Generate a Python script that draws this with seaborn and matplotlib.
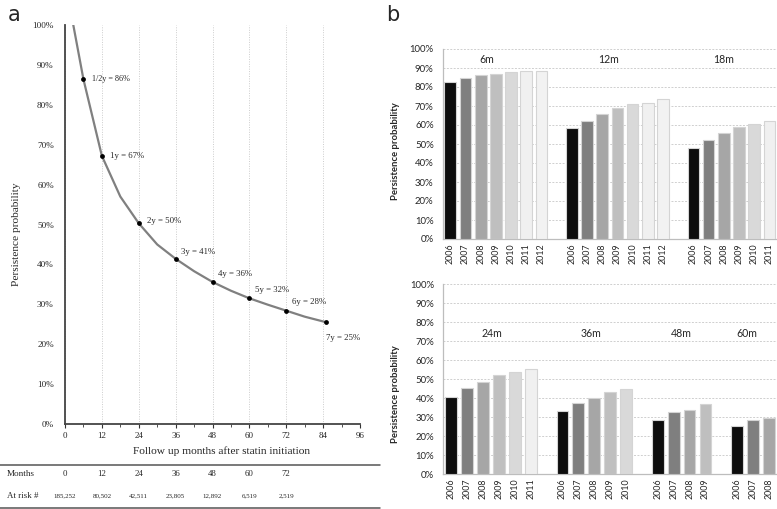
import numpy as np
import pandas as pd
import matplotlib
matplotlib.use("Agg")
import matplotlib.pyplot as plt
import matplotlib.transforms as mtransforms
from matplotlib.lines import Line2D
import seaborn as sns

# ---------------- data: panel a ----------------
curve_months = [2.7, 6, 12, 18, 24, 30, 36, 42, 48, 54, 60, 66, 72, 78, 85]
curve_values = [100, 86.4, 67.2, 57.0, 50.3, 45.0, 41.4, 38.3, 35.6, 33.4, 31.5, 29.9, 28.4, 26.9, 25.5]
point_months = [6, 12, 24, 36, 48, 60, 72, 85]
point_values = [86.4, 67.2, 50.3, 41.4, 35.6, 31.5, 28.4, 25.5]
point_labels = ["1/2y = 86%", "1y = 67%", "2y = 50%", "3y = 41%", "4y = 36%",
                "5y = 32%", "6y = 28%", "7y = 25%"]
risk_months = [0, 12, 24, 36, 48, 60, 72]
risk_counts = ["185,252", "80,502", "42,511", "23,805", "12,892", "6,519", "2,519"]

# ---------------- data: panel b ----------------
years_all = ["2006", "2007", "2008", "2009", "2010", "2011", "2012"]
year_colors = ["#0d0d0d", "#7f7f7f", "#a6a6a6", "#bfbfbf", "#d9d9d9", "#f0f0f0", "#f2f2f2"]

top_groups = ["6m", "12m", "18m"]
top_values = [
    [82.5, 84.6, 86.1, 87.0, 87.9, 88.2, 88.2],
    [58.6, 62.1, 66.0, 69.1, 70.9, 71.6, 73.5],
    [47.9, 51.9, 55.6, 59.1, 60.5, 62.1],
]
bottom_groups = ["24m", "36m", "48m", "60m"]
bottom_values = [
    [40.8, 45.4, 48.7, 52.1, 53.8, 55.6],
    [33.3, 37.5, 40.0, 43.2, 44.9],
    [28.6, 32.6, 33.8, 36.8],
    [25.4, 28.7, 29.6],
]

W, H = 777, 509
sns.set_theme(style="white")
plt.rcParams["font.family"] = ["Liberation Serif", "DejaVu Serif"]
fig = plt.figure(figsize=(W / 100, H / 100), dpi=100)

def fx(px):
    return px / W

def fy(py):
    return 1 - py / H

# ================= panel a =================
ax = fig.add_axes([fx(65), fy(424), fx(295), 399 / H])
curve_df = pd.DataFrame({"month": curve_months, "value": curve_values})
pts_df = pd.DataFrame({"month": point_months, "value": point_values})
sns.lineplot(data=curve_df, x="month", y="value", ax=ax, color="#808080", lw=1.6)
sns.scatterplot(data=pts_df, x="month", y="value", ax=ax, color="black", s=12,
                edgecolor="black", linewidth=0, zorder=5)
ax.set_xlim(0, 96)
ax.set_ylim(0, 100)
ax.set_xticks(range(0, 97, 12))
ax.set_xticks(range(6, 96, 12), minor=True)
ax.set_yticks(range(0, 101, 10))
ax.set_yticklabels([f"{v}%" for v in range(0, 101, 10)])
ax.tick_params(axis="x", which="major", length=3, width=0.8, color="#333333",
               labelsize=6.5, pad=3, direction="out", bottom=True)
ax.tick_params(axis="x", which="minor", length=2, width=0.6, color="#333333", bottom=True)
ax.tick_params(axis="y", length=0, labelsize=6.6, pad=8)
ax.xaxis.grid(True, which="major", ls=(0, (1, 1.5)), color="#cccccc", lw=0.7)
ax.yaxis.grid(False)
for s in ["top", "right"]:
    ax.spines[s].set_visible(False)
for s in ["left", "bottom"]:
    ax.spines[s].set_color("#444444")
    ax.spines[s].set_linewidth(1.3)
ax.set_xlabel("Follow up months after statin initiation", fontsize=8.2)
ax.xaxis.set_label_coords((221.5 - 65) / 295, -(446 - 424) / 399)
ax.set_ylabel("Persistence probability", fontsize=8.2)
ax.yaxis.set_label_coords((21 - 65) / 295, (424 - 234) / 399)

offsets = [(6, 0), (6, 0), (6, 2), (4, 5), (4, 6), (4, 6), (4, 6), (0, -11)]
for m, v, lab, off in zip(point_months, point_values, point_labels, offsets):
    ax.annotate(lab, (m, v), xytext=off, textcoords="offset points",
                fontsize=6.3 if not lab.startswith("1/2") else 5.9,
                ha="left", va="center")

# risk table
tr = mtransforms.blended_transform_factory(ax.transData, fig.transFigure)
fig.text(fx(7), fy(474), "Months", fontsize=6.6, ha="left", va="center")
fig.text(fx(7), fy(496), "At risk #", fontsize=6.4, ha="left", va="center")
for m, c in zip(risk_months, risk_counts):
    fig.text(m, fy(474), str(m), transform=tr, fontsize=6.3, ha="center", va="center")
    fig.text(m, fy(496), c, transform=tr, fontsize=5.0, ha="center", va="center")
for yy in (465, 508):
    fig.add_artist(Line2D([0, fx(380)], [fy(yy), fy(yy)], color="#555555", lw=1.1,
                          transform=fig.transFigure))

fig.text(fx(8), fy(15), "a", fontsize=15, family="DejaVu Sans", ha="left", va="center")
fig.text(fx(386), fy(15), "b", fontsize=15, family="DejaVu Sans", ha="left", va="center")

# ================= panel b =================
SANS = ["Lato", "DejaVu Sans"]

def build(groups, values):
    rows = []
    slot = 0
    for g, vals in zip(groups, values):
        for i, v in enumerate(vals):
            rows.append({"slot": slot, "value": v, "year": years_all[i], "group": g})
            slot += 1
        slot += 1
    return pd.DataFrame(rows), slot - 1

def draw_bars(axb, groups, values, width, label_slots, label_y, ylab_y):
    df, nslots = build(groups, values)
    sns.barplot(data=df, x="slot", y="value", hue="year", hue_order=years_all,
                palette=year_colors, dodge=False, native_scale=True, width=width,
                edgecolor="#d4d4d4", linewidth=0.8, legend=False, ax=axb, zorder=3)
    axb.set_xlim(-0.5, nslots - 0.5)
    axb.set_ylim(0, 100)
    axb.set_yticks(range(0, 101, 10))
    axb.set_yticklabels([f"{v}%" for v in range(0, 101, 10)], family=SANS)
    axb.set_xticks(df["slot"].tolist())
    axb.set_xticklabels(df["year"].tolist(), rotation=90, family=SANS)
    axb.tick_params(axis="y", length=0, labelsize=6.9, pad=6.5)
    axb.tick_params(axis="x", length=0, labelsize=6.4, pad=3)
    axb.yaxis.grid(True, ls=(0, (2, 1.5)), color="#cfcfcf", lw=0.7, zorder=0)
    axb.xaxis.grid(False)
    for s in ["top", "right"]:
        axb.spines[s].set_visible(False)
    for s in ["left", "bottom"]:
        axb.spines[s].set_color("#bdbdbd")
        axb.spines[s].set_linewidth(0.9)
    axb.set_xlabel("")
    axb.set_ylabel("Persistence probability", fontsize=6.8, fontweight="bold",
                   family=SANS)
    axb.yaxis.set_label_coords((400 - 443) / 334, ylab_y)
    for g, xs in zip(groups, label_slots):
        axb.text(xs, label_y, g, fontsize=7.6, family=SANS, ha="center", va="center")

ax_t = fig.add_axes([fx(442.7), fy(239), fx(334.3), 190 / H])
draw_bars(ax_t, top_groups, top_values, 0.77, [2.37, 10.4, 18.0], 94.7, 0.46)

ax_b = fig.add_axes([fx(443.3), fy(474.3), fx(333.7), 190 / H])
draw_bars(ax_b, bottom_groups, bottom_values, 0.74, [2.55, 8.77, 14.5, 18.6], 74.2, 0.42)

fig.savefig("out.png", dpi=100)
